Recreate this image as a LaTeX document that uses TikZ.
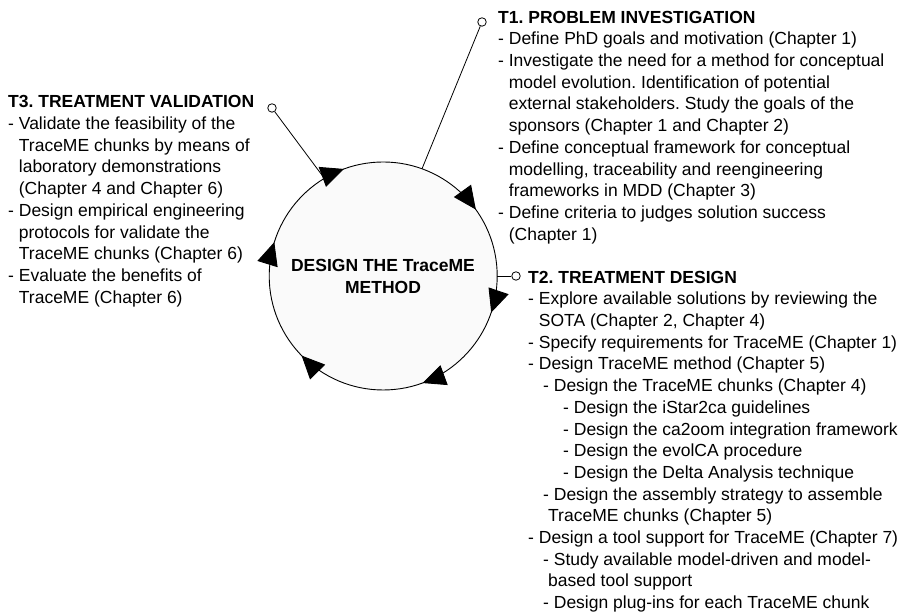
\documentclass[tikz,border=0pt]{standalone}
\usepackage{fontspec}
\setmainfont{Liberation Sans}
\usetikzlibrary{arrows.meta,decorations.markings}
\tikzset{cyctip/.tip={Triangle[length=23pt,width=21pt]}}
\frenchspacing
\begin{document}
\begin{tikzpicture}[x=1pt,y=1pt,
  body/.style={font=\frenchspacing\fontsize{17.5}{21.7}\selectfont, align=left, inner sep=0pt, anchor=north west, text=black},
  hub/.style={circle, minimum size=228pt, inner sep=0pt, fill=black!2,
    font=\bfseries\fontsize{17.5}{22}\selectfont, align=center},
  dot/.style={circle, draw, fill=white, minimum size=8.5pt, inner sep=0pt, line width=0.8pt},
  link/.style={line width=0.8pt},
  ring/.style={line width=0.9pt, postaction={decorate}, decoration={markings,
    mark=at position 0.052 with {\arrow{cyctip}},
    mark=at position 0.194 with {\arrow{cyctip}},
    mark=at position 0.377 with {\arrow{cyctip}},
    mark=at position 0.548 with {\arrow{cyctip}},
    mark=at position 0.694 with {\arrow{cyctip}},
    mark=at position 0.901 with {\arrow{cyctip}}}}
]
\useasboundingbox (0,0) rectangle (898,612);

% central cycle
\node[hub] (cyc) at (383,336) {DESIGN THE TraceME\\METHOD};
\draw[ring] (cyc.east) arc[start angle=0, end angle=-360, radius=114pt];

% end points of the three leader lines
\node[dot] (d1) at (482,590) {};
\node[dot] (d2) at (516,336) {};
\node[dot] (d3) at (272,504) {};
\draw[link] (cyc.70) -- (d1);
\draw[link] (cyc.east) -- (d2);
\draw[link] (cyc.121) -- (d3);

% T1
\node[body] (t1) at (498,601.3) {\textbf{T1. PROBLEM INVESTIGATION}\\
- Define PhD goals and motivation (Chapter 1)\\
- Investigate the need for a method for conceptual\\
\hspace*{10.7pt}model evolution. Identification of potential\\
\hspace*{10.7pt}external stakeholders. Study the goals of the\\
\hspace*{10.7pt}sponsors (Chapter 1 and Chapter 2)\\
- Define conceptual framework for conceptual\\
\hspace*{10.7pt}modelling, traceability and reengineering\\
\hspace*{10.7pt}frameworks in MDD (Chapter 3)\\
- Define criteria to judges solution success\\
\hspace*{10.7pt}(Chapter 1)};

% T2
\node[body] (t2) at (528,341.3) {\textbf{T2. TREATMENT DESIGN}\\
- Explore available solutions by reviewing the\\
\hspace*{10.7pt}SOTA (Chapter 2, Chapter 4)\\
- Specify requirements for TraceME (Chapter 1)\\
- Design TraceME method (Chapter 5)\\
\hspace*{15pt}- Design the TraceME chunks (Chapter 4)\\
\hspace*{35pt}- Design the iStar2ca guidelines\\
\hspace*{35pt}- Design the ca2oom integration framework\\
\hspace*{35pt}- Design the evolCA procedure\\
\hspace*{35pt}- Design the Delta Analysis technique\\
\hspace*{15pt}- Design the assembly strategy to assemble\\
\hspace*{20pt}TraceME chunks (Chapter 5)\\
- Design a tool support for TraceME (Chapter 7)\\
\hspace*{15pt}- Study available model-driven and model-\\
\hspace*{20pt}based tool support\\
\hspace*{15pt}- Design plug-ins for each TraceME chunk};

% T3
\node[body] (t3) at (8,516.6) {\textbf{T3. TREATMENT VALIDATION}\\
- Validate the feasibility of the\\
\hspace*{10.7pt}TraceME chunks by means of\\
\hspace*{10.7pt}laboratory demonstrations\\
\hspace*{10.7pt}(Chapter 4 and Chapter 6)\\
- Design empirical engineering\\
\hspace*{10.7pt}protocols for validate the\\
\hspace*{10.7pt}TraceME chunks (Chapter 6)\\
- Evaluate the benefits of\\
\hspace*{10.7pt}TraceME (Chapter 6)};
\end{tikzpicture}
\end{document}
